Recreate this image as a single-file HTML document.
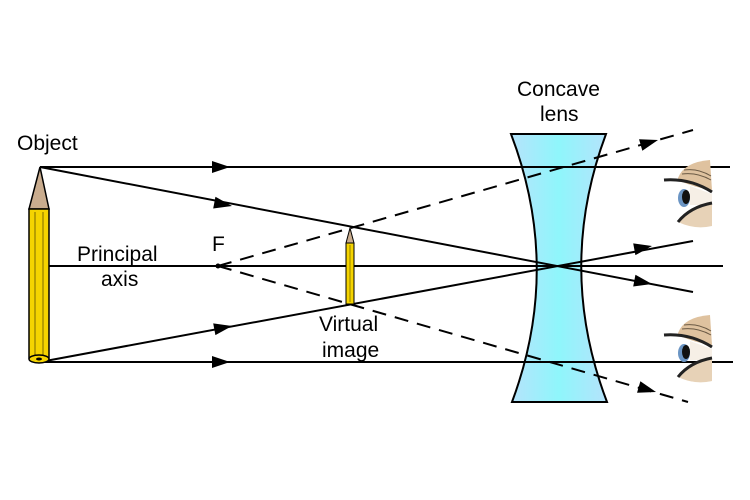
<!DOCTYPE html>
<html><head><meta charset="utf-8"><style>
html,body{margin:0;padding:0;background:#fff;}
svg{display:block;}
text{font-family:"Liberation Sans",Arial,sans-serif;font-size:21px;fill:#000;}
</style></head><body>
<svg width="750" height="500" viewBox="0 0 750 500" xmlns="http://www.w3.org/2000/svg">
<defs>
<linearGradient id="lg" x1="0" x2="1" y1="0" y2="0">
<stop offset="0" stop-color="#b5e3fb"/><stop offset="0.5" stop-color="#8ff6fb"/><stop offset="1" stop-color="#b5e3fb"/>
</linearGradient>
<g id="eye">
<path d="M678,178 Q684,162 710,160 L712,190 Q695,188 678,180 Z" fill="#dfc29f"/>
<path d="M684,170 Q698,168 711,176 M682,174 Q697,172 711,180" stroke="#6b5a45" stroke-width="1" fill="none"/>
<path d="M664,180 Q690,178 712,192" stroke="#222" stroke-width="3" fill="none"/>
<path d="M690,186 L712,194 L712,205 L690,205 Z" fill="#f6efe6"/>
<ellipse cx="684" cy="198" rx="6" ry="9" fill="#6b95c4"/>
<ellipse cx="686" cy="197" rx="4" ry="7" fill="#111"/>
<path d="M678,222 Q690,205 712,202 L712,226 Q695,230 678,222 Z" fill="#e7d2b7"/>
<path d="M678,222 Q690,207 712,203" stroke="#222" stroke-width="3" fill="none"/>
</g>
</defs>
<!-- lens -->
<path d="M511,134 L606,134 Q556,268 607,402 L512,402 Q562,268 511,134 Z" fill="url(#lg)" stroke="#000" stroke-width="2"/>
<g stroke="#000" stroke-width="2" fill="none">
<line x1="40" y1="167" x2="730" y2="167"/>
<line x1="40" y1="362" x2="733" y2="362"/>
<line x1="48" y1="266" x2="723" y2="266"/>
<line x1="40" y1="167" x2="693" y2="292"/>
<line x1="40" y1="362" x2="693" y2="241"/>
</g>
<g stroke="#000" stroke-width="2" stroke-dasharray="14,9" fill="none">
<line x1="218" y1="266" x2="693" y2="130"/>
<line x1="218" y1="266" x2="688" y2="402"/>
</g>
<circle cx="218" cy="266" r="2.5" fill="#000"/>
<g fill="#000">
<polygon points="230,167 212,161 212,173"/>
<polygon points="230,362 212,356 212,368"/>
<polygon points="0,0 -18,-6 -18,6" transform="translate(232,206) rotate(10.8)"/>
<polygon points="0,0 -18,-6 -18,6" transform="translate(232,326) rotate(-10.5)"/>
<polygon points="0,0 -18,-6 -18,6" transform="translate(652,284) rotate(10.8)"/>
<polygon points="0,0 -18,-6 -18,6" transform="translate(652,246) rotate(-10.5)"/>
<polygon points="0,0 -18,-6 -18,6" transform="translate(658,140) rotate(-16)"/>
<polygon points="0,0 -18,-6 -18,6" transform="translate(656,392) rotate(16.1)"/>
</g>
<polygon points="40,167 29,209 49,209" fill="#c9ac8e" stroke="#000" stroke-width="1.5"/>
<rect x="29" y="209" width="20" height="149" fill="#f5d400" stroke="#000" stroke-width="1.5"/>
<line x1="35" y1="212" x2="35" y2="355" stroke="#7a6a00" stroke-width="1"/>
<line x1="43" y1="212" x2="43" y2="355" stroke="#7a6a00" stroke-width="1"/>
<ellipse cx="39" cy="359" rx="10" ry="4" fill="#f5d400" stroke="#000" stroke-width="1.5"/>
<ellipse cx="39" cy="359" rx="3" ry="1.5" fill="#000"/>
<polygon points="350,228 346,243 354,243" fill="#c9ac8e" stroke="#000" stroke-width="1"/>
<rect x="346" y="243" width="8" height="61" fill="#f5d400" stroke="#000" stroke-width="1"/>
<line x1="350" y1="245" x2="350" y2="302" stroke="#7a6a00" stroke-width="0.8"/>
<use href="#eye"/>
<use href="#eye" transform="translate(0,155)"/>
<text x="17" y="150">Object</text>
<text x="77" y="261">Principal</text>
<text x="101" y="286">axis</text>
<text x="212" y="251">F</text>
<text x="319" y="331">Virtual</text>
<text x="322" y="357">image</text>
<text x="517" y="96">Concave</text>
<text x="540" y="121">lens</text>
</svg>
</body></html>
